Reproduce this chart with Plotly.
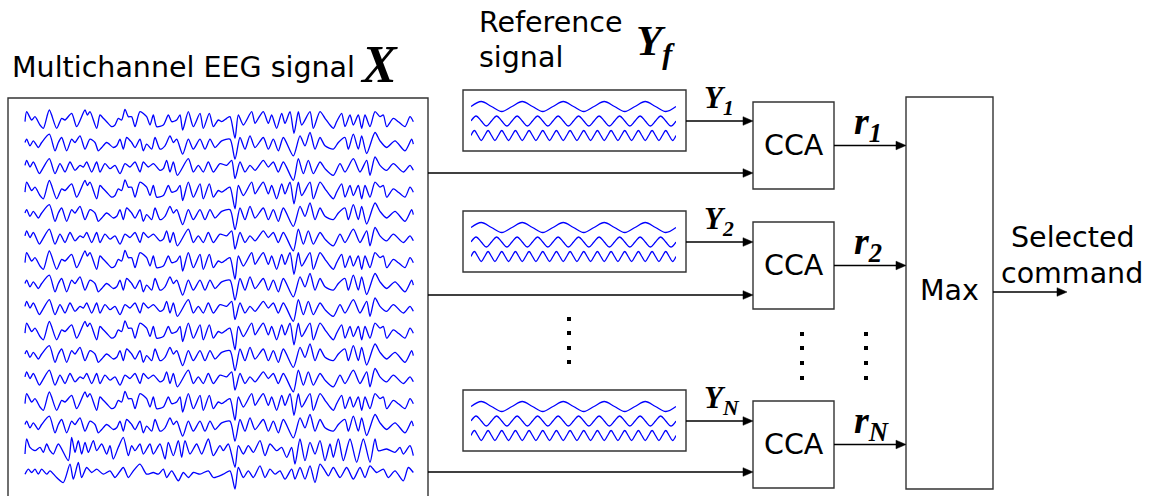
import plotly.graph_objects as go

W, H = 1157, 496

# ---------------- data ----------------
# EEG channel waveforms: (sample, amplitude)
eeg_trace_a = [(75,-5),(80,25),(95,0),(105,10),(120,-15),(130,-25),(148,30),(170,-25),(185,5),(195,0),
               (215,20),(230,-20),(255,30),(262,15),(270,25),(290,-25),(300,15),(310,5),(320,-5),(335,-20),
               (345,-15),(355,5),(365,0),(375,32),(385,10),(395,10),(405,-20),(420,25),(440,10),(450,-15),
               (460,15),(470,-20),(490,-15),(505,15),(515,-5),(530,0),(540,15),(548,-30),(565,25),(580,-20),
               (600,20),(610,-25),(628,20),(640,-20),(655,0),(665,-5),(680,5),(690,10),(705,-55),(715,15),
               (730,-15),(755,25),(765,-10),(775,5),(790,25),(805,-10),(815,15),(830,-25),(845,20),(855,-10),
               (870,25),(882,-40),(895,25),(905,-15),(930,25),(940,-25),(960,25),(975,5),(990,-15),(1000,-25),
               (1010,-5),(1025,20),(1035,-20),(1050,15),(1060,-15),(1075,15),(1085,-25),(1095,15),(1110,-20),
               (1125,25),(1140,10),(1150,15),(1160,-20),(1180,5),(1195,-5),(1215,-20),(1230,10),(1240,-5)]
eeg_trace_b = [(75,3),(80,13),(90,-7),(100,8),(115,-12),(125,3),(148,28),(165,-22),(175,3),(185,18),
               (200,-22),(215,13),(225,3),(240,23),(255,-17),(270,13),(285,3),(295,-22),(305,-12),(320,3),
               (340,-12),(350,-7),(360,13),(370,-17),(380,18),(395,3),(405,-12),(420,13),(430,-22),(440,-2),
               (455,-17),(465,18),(480,-17),(495,-7),(510,23),(520,3),(530,13),(548,-32),(565,13),(580,-17),
               (600,13),(615,-17),(630,13),(645,-12),(665,8),(690,13),(705,-47),(720,18),(735,-17),(750,23),
               (765,-12),(790,18),(805,-17),(820,13),(835,-22),(850,18),(880,-37),(900,23),(915,-7),(930,33),
               (945,-17),(960,18),(975,-7),(1000,-17),(1015,3),(1035,18),(1045,-17),(1060,28),(1075,-17),
               (1085,23),(1100,-30),(1125,33),(1140,8),(1160,-12),(1185,8),(1215,-22),(1235,13),(1240,-2)]
eeg_trace_c = [(75,5),(80,20),(90,0),(100,15),(118,-20),(128,-5),(148,25),(165,-20),(180,10),(195,-15),
               (210,15),(225,-10),(240,5),(250,0),(260,15),(275,-15),(290,15),(300,-15),(315,10),(330,-5),
               (345,5),(360,-20),(375,10),(390,0),(405,15),(420,-15),(430,15),(445,0),(460,10),(480,-10),
               (490,-5),(500,20),(510,-15),(520,15),(532,-25),(565,25),(580,-15),(595,5),(610,-15),(625,15),
               (640,-15),(660,10),(680,5),(695,20),(705,-35),(720,15),(735,-15),(750,5),(765,-10),(790,20),
               (805,0),(820,15),(835,-15),(850,15),(880,-40),(895,25),(910,-20),(925,20),(940,-20),(960,15),
               (975,-5),(1000,-25),(1020,10),(1035,-15),(1060,25),(1080,-15),(1100,20),(1110,-25),(1125,30),
               (1140,5),(1160,-10),(1180,10),(1210,-15),(1230,5),(1240,-10)]
eeg_trace_d = [(75,-15),(80,30),(90,5),(105,-5),(120,5),(130,-10),(140,15),(150,-5),(160,-15),(175,15),
               (205,-35),(215,35),(225,-10),(235,25),(245,-15),(255,20),(265,-10),(280,25),(290,-5),(305,15),
               (320,-15),(330,10),(340,-30),(355,5),(370,35),(385,-20),(395,10),(405,-5),(420,15),(430,-15),
               (450,15),(460,-15),(480,15),(495,-30),(505,20),(520,-20),(535,25),(545,-25),(555,25),(570,-15),
               (590,15),(605,-15),(625,30),(640,-20),(660,10),(670,-5),(685,15),(705,-55),(715,10),(730,-15),
               (745,10),(760,-10),(780,25),(795,-20),(810,15),(830,-5),(845,5),(860,-25),(875,5),(885,-45),
               (900,30),(915,-35),(930,20),(945,-15),(960,25),(975,-35),(990,15),(1000,-25),(1015,30),(1030,-35),
               (1050,30),(1070,-40),(1090,30),(1110,-40),(1125,30),(1135,-5),(1160,0),(1185,-10),(1200,5),
               (1210,-15),(1230,10),(1240,-20)]
eeg_trace_e = [(75,-5),(85,10),(95,0),(105,10),(115,-5),(125,10),(140,-5),(150,5),(170,-15),(190,-30),
               (210,25),(220,-20),(235,30),(245,-15),(260,15),(275,0),(290,10),(310,-5),(330,5),(345,-15),
               (370,15),(385,-15),(400,5),(420,25),(440,-5),(460,0),(475,-5),(490,10),(500,-15),(515,5),
               (535,-25),(550,0),(565,-15),(580,0),(600,-5),(625,5),(640,-15),(670,-5),(690,5),(705,-50),
               (715,15),(730,-15),(745,5),(760,-15),(780,20),(795,-15),(810,10),(825,-5),(840,5),(855,-20),
               (875,10),(885,-20),(900,15),(915,-20),(930,20),(945,-30),(960,25),(975,5),(985,-10),(1000,15),
               (1020,-15),(1040,15),(1060,-20),(1080,15),(1095,-15),(1110,20),(1130,0),(1150,10),(1165,-15),
               (1185,5),(1210,-25),(1225,15),(1240,0)]
eeg_waveforms = {"a": eeg_trace_a, "b": eeg_trace_b, "c": eeg_trace_c, "d": eeg_trace_d, "e": eeg_trace_e}
eeg_channels = ["a", "b", "c", "a", "b", "c", "a", "b", "c", "a", "b", "c", "a", "b", "d", "e"]

# reference sinusoids (values at every quarter period): f, 2f, 3f
ref_harmonic_1 = [0, 1, 0, -1] * 5 + [0]
ref_harmonic_2 = [0, 1, 0, -1] * 10 + [0]
ref_harmonic_3 = [0, 1, 0, -1] * 15 + [0]
ref_harmonics = [ref_harmonic_1, ref_harmonic_2, ref_harmonic_3]

branch_labels_y = ["<b><i>Y<sub>1</sub></i></b>", "<b><i>Y<sub>2</sub></i></b>", "<b><i>Y<sub>N</sub></i></b>"]
branch_labels_r = ["<b><i>r<sub>1</sub></i></b>", "<b><i>r<sub>2</sub></i></b>", "<b><i>r<sub>N</sub></i></b>"]

# ---------------- layout geometry (pixels) ----------------
SANS = "DejaVu Sans"
SERIF = "Liberation Serif"
BOX = "#333333"
BLUE = "#0000ff"

eeg_box = (8, 98, 428, H + 6)
ref_box_tops = [90, 211, 390]
ref_box_h = 61
ref_x0, ref_x1 = 463, 686
cca_tops = [102, 222, 401]
cca_h = 87
cca_x0, cca_x1 = 753, 834
eeg_out_y = [173, 295, 472]
max_box = (906, 97, 993, 489)

fig = go.Figure()

# EEG traces on their own axis: 3 units per pixel, channel spacing 70.5 units
ch_step = 70.5
for k, key in enumerate(eeg_channels):
    pts = eeg_waveforms[key]
    fig.add_trace(go.Scatter(
        x=[p[0] for p in pts], y=[p[1] - k * ch_step for p in pts],
        mode="lines", line=dict(color=BLUE, width=1.3, shape="spline", smoothing=0.7),
        xaxis="x2", yaxis="y2", hoverinfo="skip", showlegend=False))

# reference sinusoids: one y axis per reference box
wave_gap = 2.9
for b, top in enumerate(ref_box_tops):
    ya = "y%d" % (3 + b)
    for j, vals in enumerate(ref_harmonics):
        n = len(vals) - 1
        fig.add_trace(go.Scatter(
            x0=0, dx=1.0 / n, y=[v - j * wave_gap for v in vals],
            mode="lines", line=dict(color=BLUE, width=1.3, shape="spline", smoothing=1.0),
            xaxis="x3", yaxis=ya, hoverinfo="skip", showlegend=False))

shapes = []
def rect(x0, y0, x1, y1, w=1.4):
    shapes.append(dict(type="rect", xref="x", yref="y", x0=x0, y0=y0, x1=x1, y1=y1,
                       line=dict(color=BOX, width=w), fillcolor="rgba(0,0,0,0)", layer="above"))

rect(*eeg_box)
for top in ref_box_tops:
    rect(ref_x0, top, ref_x1, top + ref_box_h)
for top in cca_tops:
    rect(cca_x0, top, cca_x1, top + cca_h)
rect(*max_box)

# vertical ellipsis dots
for (dx, ys) in [(569, [319, 333, 348, 362]), (802, [334, 348, 363, 378]), (866, [334, 348, 363, 378])]:
    for yy in ys:
        shapes.append(dict(type="rect", xref="x", yref="y", x0=dx - 2, x1=dx + 2, y0=yy - 2, y1=yy + 2,
                           line=dict(width=0), fillcolor="black", layer="above"))

# arrows: line + filled triangular head
HEAD_L, HEAD_W = 10, 4.3
def arrow(x0, y, x1):
    shapes.append(dict(type="line", xref="x", yref="y", x0=x0, y0=y, x1=x1 - HEAD_L + 1, y1=y,
                       line=dict(color="black", width=1.5), layer="above"))
    shapes.append(dict(type="path", xref="x", yref="y",
                       path="M %g %g L %g %g L %g %g Z" % (x1, y, x1 - HEAD_L, y - HEAD_W, x1 - HEAD_L, y + HEAD_W),
                       fillcolor="black", line=dict(color="black", width=0.5), layer="above"))

ann = []
def text(x, y, s, size, family=SANS, xanchor="left", color="black"):
    ann.append(dict(x=x, y=y, xref="x", yref="y", text=s, showarrow=False,
                    xanchor=xanchor, yanchor="middle", align="center",
                    font=dict(family=family, size=size, color=color)))

for i in range(3):
    arrow(eeg_box[2], eeg_out_y[i], cca_x0)
    ref_mid = ref_box_tops[i] + ref_box_h / 2 + 0.5
    arrow(ref_x1, ref_mid, cca_x0)
    cca_mid = cca_tops[i] + cca_h / 2
    arrow(cca_x1, cca_mid, max_box[0])
    text((cca_x0 + cca_x1) / 2, cca_mid, "CCA", 28.5, xanchor="center")
    text(702, ref_mid - 21, branch_labels_y[i], 31, family=SERIF)
    text(852, cca_mid - 22, branch_labels_r[i], 38, family=SERIF)
arrow(max_box[2], 292, 1067)

text(10, 67, "Multichannel EEG signal", 28.5)
text(358, 64, "<b><i>X</i></b>", 52, family=SERIF)
text(477, 22.5, "Reference", 28.5)
text(477, 57, "signal", 28.5)
text(634, 44, "<b><i>Y<sub>f</sub></i></b>", 43, family=SERIF)
text((max_box[0] + max_box[2]) / 2, 290, "Max", 28.5, xanchor="center")
text(1073, 237, "Selected", 28.5, xanchor="center")
text(1072, 273, "command", 28.5, xanchor="center")

hidden = dict(visible=False, showgrid=False, zeroline=False, fixedrange=True)
layout = dict(
    width=W, height=H, margin=dict(l=0, r=0, t=0, b=0),
    paper_bgcolor="white", plot_bgcolor="rgba(0,0,0,0)", showlegend=False,
    xaxis=dict(range=[0, W], domain=[0, 1], **hidden),
    yaxis=dict(range=[H, 0], domain=[0, 1], **hidden),
    xaxis2=dict(range=[0, 3 * W], domain=[0, 1], anchor="y2", **hidden),
    yaxis2=dict(range=[360 - 3 * H, 360], domain=[0, 1], anchor="x2", **hidden),
    xaxis3=dict(range=[0, 1], domain=[471 / W, 676 / W], anchor="y3", **hidden),
    shapes=shapes, annotations=ann,
)
# each reference box gets its own y axis covering the box; first wave centre 16.5 px below box top, 1 unit = 5 px
for b, top in enumerate(ref_box_tops):
    bottom = top + ref_box_h
    layout["yaxis%d" % (3 + b)] = dict(range=[-(ref_box_h - 16.5) / 5, 16.5 / 5],
                                       domain=[(H - bottom) / H, (H - top) / H], anchor="x3", **hidden)
fig.update_layout(**layout)
fig.write_html("out.html")
